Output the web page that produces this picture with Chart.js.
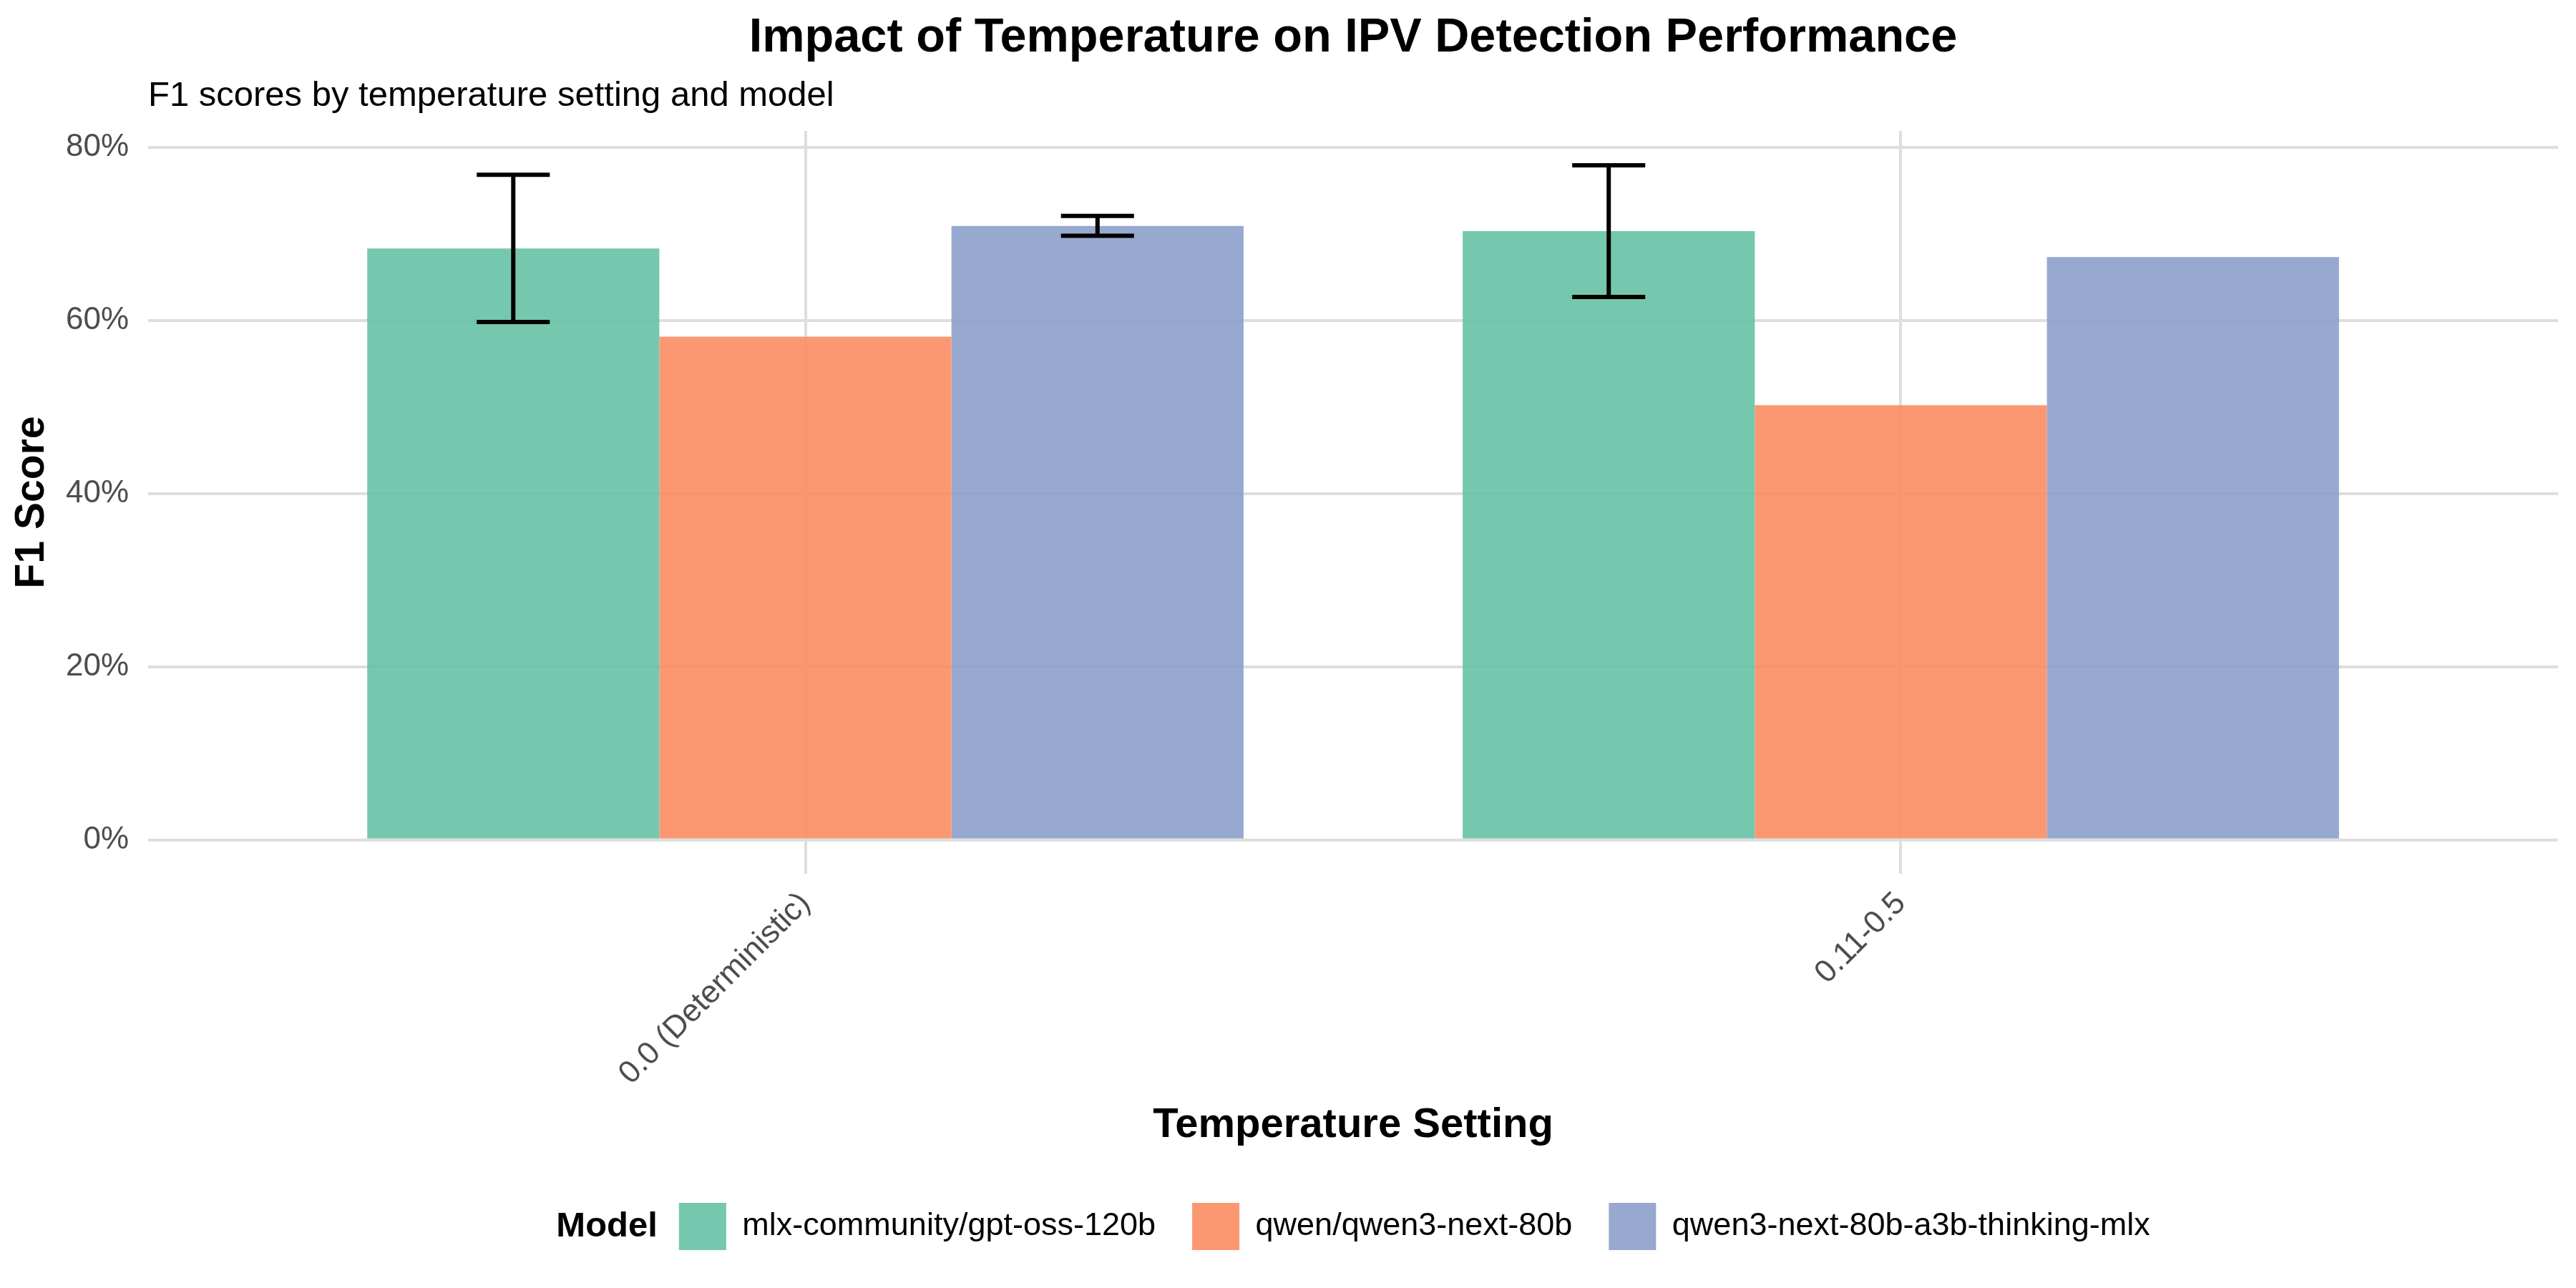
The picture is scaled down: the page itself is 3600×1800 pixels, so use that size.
<!DOCTYPE html>
<html>
<head>
<meta charset="utf-8">
<title>Impact of Temperature on IPV Detection Performance</title>
<script src="https://cdn.jsdelivr.net/npm/chart.js@4.4.1/dist/chart.umd.min.js"></script>
<style>
  html, body { margin: 0; padding: 0; background: #fff; }
  #wrap { width: 3600px; height: 1800px; }
</style>
</head>
<body>
<div id="wrap"><canvas id="f1Chart"></canvas></div>
<script>
// x axis categories
const temperatures = ['0.0 (Deterministic)', '0.11-0.5'];

// legend entries
const models = ['mlx-community/gpt-oss-120b', 'qwen/qwen3-next-80b', 'qwen3-next-80b-a3b-thinking-mlx'];

// mean F1 score (%) per temperature setting
const gptOss = [68.3, 70.3];
const qwenNext = [58.1, 50.2];
const qwenThinking = [70.9, 67.3];

// standard deviation (%) for the error bars, null = no error bar
const gptOssSd = [8.5, 7.6];
const qwenNextSd = [null, null];
const qwenThinkingSd = [1.15, null];

// y axis tick values (%)
const yTicks = [0, 20, 40, 60, 80];

const FONT = '"Liberation Sans", Arial, Helvetica, sans-serif';
Chart.defaults.font.family = FONT;
Chart.defaults.color = '#000';

// turn a series into {x, y} points on the numeric x axis (1, 2, ...)
function toPoints(values) {
  return values.map((v, i) => ({ x: i + 1, y: v }));
}

/**
 * draws the mean +/- sd whiskers on top of the bars
 */
const errorBars = {
  id: 'errorBars',
  afterDatasetsDraw(chart) {
    const ctx = chart.ctx;
    const xs = chart.scales.x;
    const ys = chart.scales.y;
    // errorbar width 0.2 dodged over 3 bars
    const capHalf = xs.getPixelForValue(1 + 0.2 / 3 / 2) - xs.getPixelForValue(1);
    ctx.save();
    ctx.strokeStyle = '#000';
    ctx.lineWidth = 6;
    chart.data.datasets.forEach((ds, i) => {
      const meta = chart.getDatasetMeta(i);
      ds.sd.forEach((sd, j) => {
        if (sd == null) return;
        const bar = meta.data[j];
        const v = ds.data[j].y;
        const top = ys.getPixelForValue(v + sd);
        const bottom = ys.getPixelForValue(v - sd);
        ctx.beginPath();
        ctx.moveTo(bar.x, top);
        ctx.lineTo(bar.x, bottom);
        ctx.moveTo(bar.x - capHalf, top);
        ctx.lineTo(bar.x + capHalf, top);
        ctx.moveTo(bar.x - capHalf, bottom);
        ctx.lineTo(bar.x + capHalf, bottom);
        ctx.stroke();
      });
    });
    ctx.restore();
  }
};

/**
 * inline "Model" legend title, legend block centred over the plot panel
 */
const LEGEND_TITLE_FONT = 'bold 49px ' + FONT;
const LEGEND_TITLE_GAP = 30;
const legendTitle = {
  id: 'legendTitle',
  afterLayout(chart) {
    const lg = chart.legend;
    if (!lg || !lg.lineWidths) return;
    const pad = lg.options.labels.padding;
    const ctx = chart.ctx;
    ctx.save();
    ctx.font = LEGEND_TITLE_FONT;
    const tw = ctx.measureText('Model').width;
    ctx.restore();
    const itemsWidth = lg.lineWidths[0] - pad;
    const natural = (lg.left + pad + lg.right - lg.lineWidths[0]) / 2;
    const cx = (chart.chartArea.left + chart.chartArea.right) / 2;
    const wanted = cx - (tw + LEGEND_TITLE_GAP + itemsWidth) / 2 + tw + LEGEND_TITLE_GAP;
    lg.left += wanted - natural;
    lg.right += wanted - natural;
  },
  afterDraw(chart) {
    const hb = chart.legend.legendHitBoxes[0];
    const ctx = chart.ctx;
    ctx.save();
    ctx.font = LEGEND_TITLE_FONT;
    ctx.fillStyle = '#000';
    ctx.textAlign = 'right';
    ctx.textBaseline = 'middle';
    ctx.fillText('Model', hb.left - LEGEND_TITLE_GAP, hb.top + hb.height / 2);
    ctx.restore();
  }
};

new Chart('f1Chart', {
  type: 'bar',
  data: {
    datasets: [
      { label: models[0], data: toPoints(gptOss), sd: gptOssSd, backgroundColor: 'rgba(102, 194, 165, 0.9)' },
      { label: models[1], data: toPoints(qwenNext), sd: qwenNextSd, backgroundColor: 'rgba(252, 141, 98, 0.9)' },
      { label: models[2], data: toPoints(qwenThinking), sd: qwenThinkingSd, backgroundColor: 'rgba(141, 160, 203, 0.9)' }
    ]
  },
  options: {
    responsive: true,
    maintainAspectRatio: false,
    devicePixelRatio: 1,
    animation: false,
    layout: { padding: { top: 0, right: 25, bottom: 43, left: 0 } },
    datasets: {
      bar: { categoryPercentage: 0.8, barPercentage: 1.0, borderWidth: 0 }
    },
    plugins: {
      tooltip: { enabled: false },
      title: {
        display: true,
        fullSize: false,
        text: 'Impact of Temperature on IPV Detection Performance',
        color: '#000',
        font: { size: 66.7, weight: 'bold' },
        padding: { top: 14, bottom: 0 }
      },
      subtitle: {
        display: true,
        fullSize: false,
        align: 'start',
        text: 'F1 scores by temperature setting and model',
        color: '#000',
        font: { size: 49 },
        padding: { top: 10.6, bottom: 19.6 }
      },
      legend: {
        position: 'bottom',
        labels: {
          boxWidth: 66,
          boxHeight: 66,
          padding: 51,
          color: '#000',
          font: { size: 45 }
        }
      }
    },
    scales: {
      x: {
        type: 'linear',
        min: 0.4,
        max: 2.6,
        offset: false,
        afterBuildTicks: axis => { axis.ticks = temperatures.map((t, i) => ({ value: i + 1 })); },
        afterFit: axis => { axis.height = 409; },
        ticks: {
          callback: v => temperatures[Math.round(v) - 1],
          autoSkip: false,
          minRotation: 45,
          maxRotation: 45,
          padding: 16,
          color: '#4D4D4D',
          font: { size: 44 }
        },
        grid: { color: '#DEDEDE', lineWidth: 4, drawTicks: false, offset: false },
        border: { display: false },
        title: {
          display: true,
          text: 'Temperature Setting',
          color: '#000',
          font: { size: 58, weight: 'bold' },
          padding: { top: 0, bottom: 22 }
        }
      },
      y: {
        min: -3.9,
        max: 81.86,
        afterBuildTicks: axis => { axis.ticks = yTicks.map(v => ({ value: v })); },
        afterFit: axis => { axis.width = 207; },
        ticks: {
          callback: v => v + '%',
          padding: 27,
          color: '#4D4D4D',
          font: { size: 44 }
        },
        grid: { color: '#DEDEDE', lineWidth: 4, drawTicks: false },
        border: { display: false },
        title: {
          display: true,
          text: 'F1 Score',
          color: '#000',
          font: { size: 57, weight: 'bold' },
          padding: { top: 11, bottom: 0 }
        }
      }
    }
  },
  plugins: [errorBars, legendTitle]
});
</script>
</body>
</html>
